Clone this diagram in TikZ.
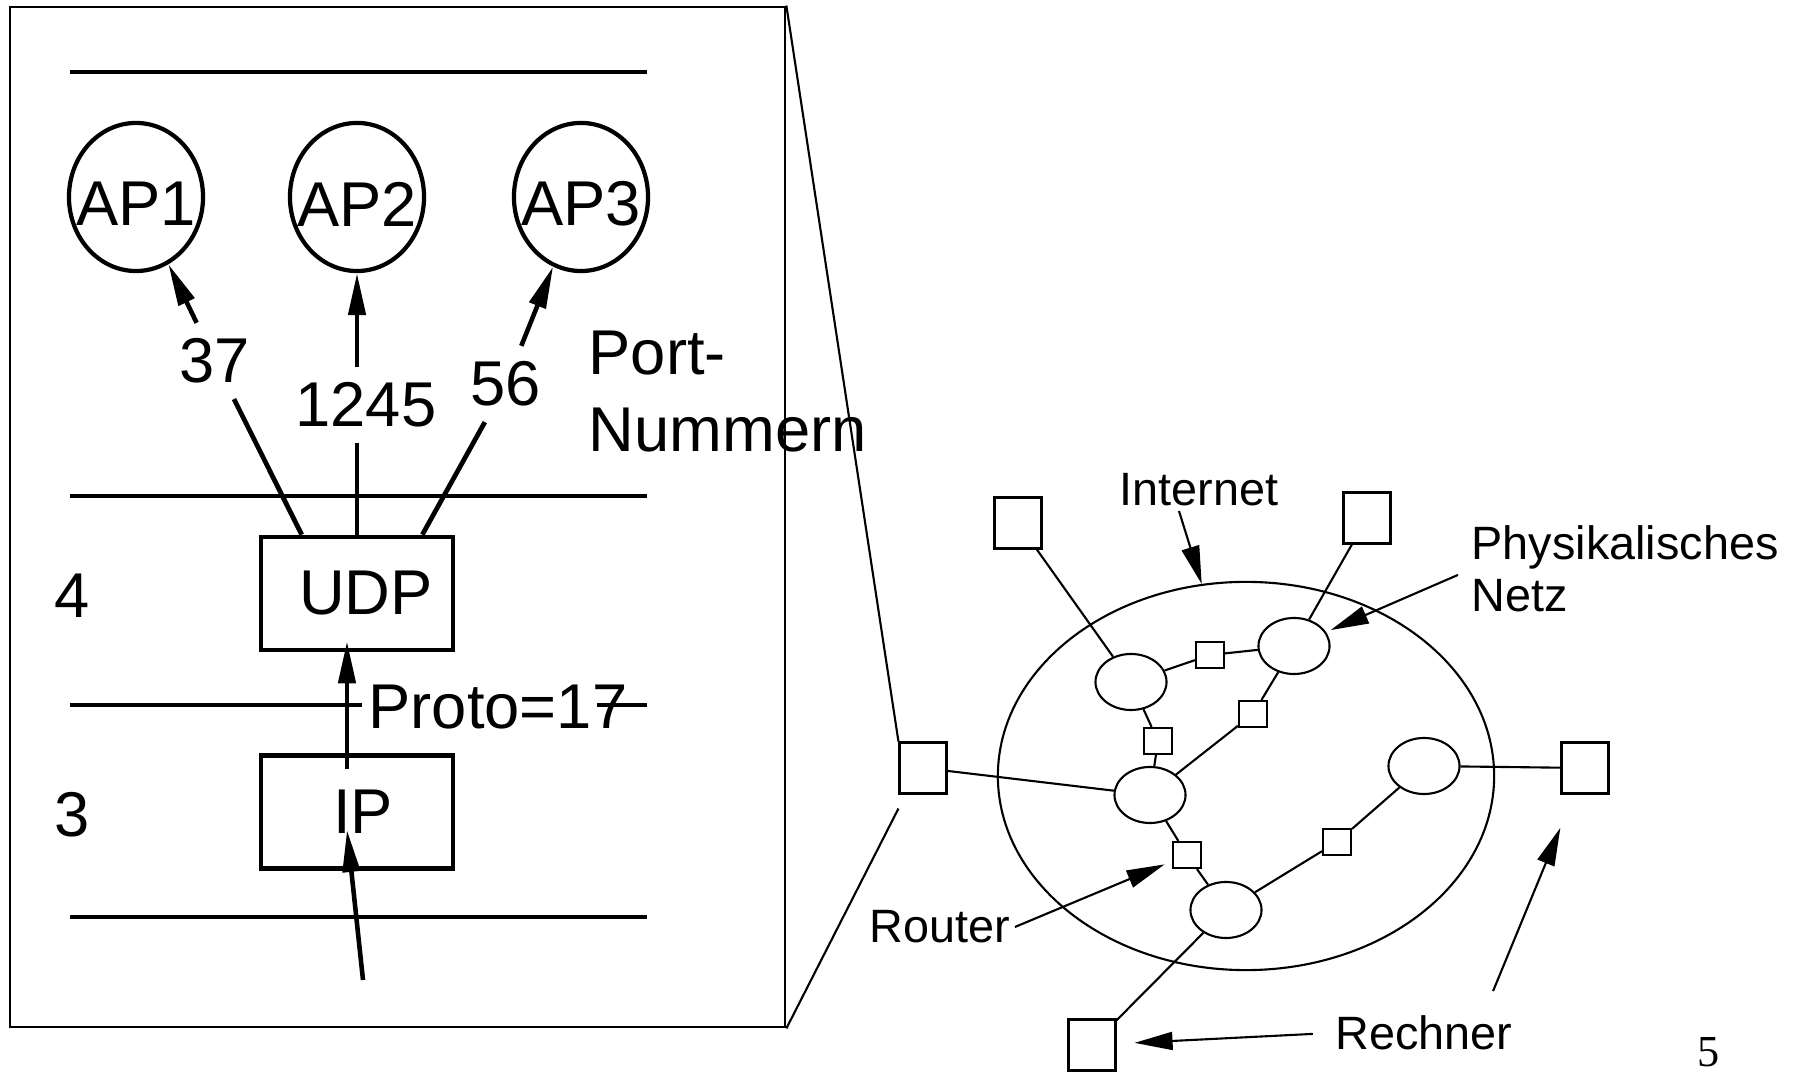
\documentclass[tikz,border=0pt]{standalone}
\usepackage{fontspec}
\setmainfont{Liberation Sans}
\newfontfamily\pagefont{Liberation Serif}
\usetikzlibrary{arrows.meta,shapes.geometric}
\definecolor{netInk}{HTML}{000000}
\tikzset{
  every picture/.style={text=netInk},
  net big/.style={font=\fontsize{18}{22}\selectfont},
  net small/.style={font=\fontsize{13.3}{14.8}\selectfont},
  net frame/.style={draw=netInk, line width=0.65pt, minimum width=7.75cm,
    minimum height=10.2cm, inner sep=0pt},
  net layer/.style={draw=netInk, line width=1.35pt},
  net app/.style={ellipse, draw=netInk, line width=1.2pt, minimum width=1.34cm,
    minimum height=1.48cm, inner sep=0pt, label={[net big,yshift=-0.07cm]center:#1}},
  net box/.style={draw=netInk, line width=1.3pt, minimum width=1.92cm,
    minimum height=1.13cm, inner sep=0pt, net big},
  net port/.style={net big, inner sep=1.5mm},
  net arrow/.style={-{Triangle[length=4.2mm,width=1.7mm]}, draw=netInk,
    line width=1.3pt},
  net link/.style={draw=netInk, line width=0.6pt},
  net thin arrow/.style={-{Triangle[length=3.8mm,width=1.8mm]}, draw=netInk,
    line width=0.6pt},
  net cloud/.style={ellipse, draw=netInk, line width=0.6pt, minimum width=4.96cm,
    minimum height=3.88cm, inner sep=0pt},
  net host/.style={draw=netInk, line width=0.6pt, minimum width=0.47cm,
    minimum height=0.51cm, inner sep=0pt},
  net oval/.style={ellipse, draw=netInk, line width=0.6pt, minimum width=0.71cm,
    minimum height=0.56cm, inner sep=0pt},
  net router/.style={draw=netInk, line width=0.6pt, minimum width=0.28cm,
    minimum height=0.26cm, inner sep=0pt},
  net note/.style={net small, inner sep=0.04cm}
}
\begin{document}
\begin{tikzpicture}[x=0.01cm,y=-0.01cm]
  \useasboundingbox (0,0) rectangle (1803,1074);
  % protocol stack
  \node[net frame] (zoom) at (397.5,517) {};
  \draw[net layer] (70,72) -- (647,72);
  \draw[net layer] (70,496) -- (647,496);
  \draw[net layer] (70,705) -- (362,705);
  \draw[net layer] (597,705) -- (647,705);
  \draw[net layer] (70,917) -- (647,917);
  \node[net app=AP1] (ap1) at (136,197) {};
  \node[net app=AP2] (ap2) at (357,197) {};
  \node[net app=AP3] (ap3) at (581,197) {};
  \node[net port] (p37) at (215,361) {37};
  \node[net port] (p1245) at (366,405) {1245};
  \node[net port] (p56) at (506,384) {56};
  \node[net big, align=left, anchor=north west, inner sep=0pt] (portlbl) at (588,330) {Port-\\Nummern};
  \node[net box] (udp) at (357,593.5) {\hspace{0.18cm}UDP};
  \node[net box] (ip) at (357,812) {\hspace{0.12cm}IP};
  \node[net big] (l4) at (72,596) {4};
  \node[net big] (l3) at (72,815) {3};
  \node[net big, inner sep=0pt] (proto) at (498,707) {Proto=17};
  \coordinate (ipin) at (363,980);
  \draw[net arrow] (p37) -- (ap1);
  \draw[net layer] (p37) -- ([xshift=0.43cm]udp.north west);
  \draw[net arrow] (p1245.north -| ap2.south) -- (ap2.south);
  \draw[net layer] (p1245.south -| udp.north) -- (udp.north);
  \draw[net arrow] (p56) -- (ap3);
  \draw[net layer] (p56) -- ([xshift=-0.33cm]udp.north east);
  \draw[net arrow] ([xshift=-0.1cm,yshift=-0.16cm]ip.north) -- ([xshift=-0.1cm,yshift=0.11cm]udp.south);
  \draw[net arrow] (ipin) -- ([xshift=-0.1cm,yshift=-0.18cm]ip.center);
  % internet
  \node[net cloud] (inet) at (1246,776) {};
  \node[net host] (ht1) at (1018,523) {};
  \node[net host] (ht2) at (1367,518) {};
  \node[net host] (hl) at (923,768) {};
  \node[net host] (hr) at (1585,768) {};
  \node[net host] (hb) at (1092,1045) {};
  \node[net oval] (n1) at (1131,682) {};
  \node[net oval] (n2) at (1294,646) {};
  \node[net oval] (n3) at (1150,795) {};
  \node[net oval] (n4) at (1424,766) {};
  \node[net oval] (n5) at (1226,910) {};
  \node[net router] (r1) at (1210,655) {};
  \node[net router] (r2) at (1158,741) {};
  \node[net router] (r3) at (1253,714) {};
  \node[net router] (r4) at (1187,855) {};
  \node[net router] (r5) at (1337,842) {};
  \draw[net link] (ht1) -- (n1);
  \draw[net link] (ht2) -- (n2);
  \draw[net link] (hl) -- (n3);
  \draw[net link] (n4) -- (hr);
  \draw[net link] (n5) -- (hb);
  \draw[net link] (n1) -- (r1) -- (n2);
  \draw[net link] (n1) -- (r2) -- (n3);
  \draw[net link] (n2) -- (r3) -- (n3);
  \draw[net link] (n3) -- (r4) -- (n5);
  \draw[net link] (n5) -- (r5) -- (n4);
  \draw[net link] (zoom.north east) -- (hl.north west);
  \draw[net link] (zoom.south east) -- ([yshift=-0.14cm]hl.south west);
  \node[net note] (inetlbl) at (1199,490) {Internet};
  \node[net small, align=left, anchor=north west, inner sep=0pt] (phys) at (1471,525) {Physikalisches\\Netz};
  \node[net note] (routerlbl) at (940,927) {Router};
  \node[net note] (rechlbl) at (1424,1033) {Rechner};
  \node[font=\pagefont\fontsize{12.6}{14}\selectfont, inner sep=0pt] (pagenum) at (1709,1052) {5};
  \draw[net thin arrow] ([xshift=-0.2cm]inetlbl.south) -- (inet.103);
  \draw[net thin arrow, shorten >=0.05cm] ([xshift=-0.13cm,yshift=-0.06cm]phys.west) -- (n2);
  \draw[net thin arrow, shorten >=0.08cm] (routerlbl.east) -- (r4);
  \draw[net thin arrow, shorten <=0.18cm, shorten >=0.18cm] (rechlbl.west) -- (hb);
  \draw[net thin arrow, shorten >=0.36cm] ([xshift=0.69cm,yshift=0.2cm]rechlbl.north) -- (hr);
\end{tikzpicture}
\end{document}
